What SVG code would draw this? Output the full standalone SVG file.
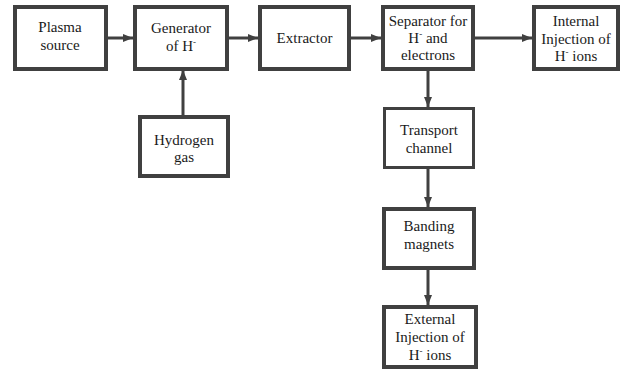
<svg xmlns="http://www.w3.org/2000/svg" width="626" height="370" viewBox="0 0 626 370">
<defs>
<style>
.box{fill:#fff;stroke:#404040;stroke-width:4}
.thin{stroke-width:3}
.lbl{font-family:"Liberation Serif","Times New Roman",serif;font-size:15px;fill:#1a1a1a;text-anchor:middle}
.sup{font-size:9px}
.edge{stroke:#404040;stroke-width:3;fill:none}
</style>
<marker id="ah" viewBox="0 0 10 10" refX="10" refY="5" markerWidth="10" markerHeight="10" markerUnits="userSpaceOnUse" orient="auto">
<path d="M0,1 L10,5 L0,9 Z" fill="#404040"/>
</marker>
</defs>
<rect width="626" height="370" fill="#fff"/>
<g id="connectors">
<line class="edge" x1="106" y1="38" x2="133" y2="38" marker-end="url(#ah)"/>
<line class="edge" x1="228" y1="38" x2="258" y2="38" marker-end="url(#ah)"/>
<line class="edge" x1="350" y1="38" x2="381" y2="38" marker-end="url(#ah)"/>
<line class="edge" x1="474" y1="38" x2="532" y2="38" marker-end="url(#ah)"/>
<line class="edge" x1="183" y1="116" x2="183" y2="70" marker-end="url(#ah)"/>
<line class="edge" x1="428" y1="69" x2="428" y2="107" marker-end="url(#ah)"/>
<line class="edge" x1="428" y1="168" x2="428" y2="207" marker-end="url(#ah)"/>
<line class="edge" x1="428" y1="269" x2="428" y2="305" marker-end="url(#ah)"/>
</g>
<g id="plasma">
<rect class="box" x="15" y="7" width="91" height="62"/>
<text class="lbl" x="60" y="32">Plasma</text>
<text class="lbl" x="60" y="50">source</text>
</g>
<g id="generator">
<rect class="box" x="135" y="7" width="92" height="62"/>
<text class="lbl" x="181" y="33">Generator</text>
<text class="lbl" x="181" y="51">of H<tspan class="sup" dy="-6">-</tspan></text>
</g>
<g id="extractor">
<rect class="box" x="260" y="7" width="89" height="62"/>
<text class="lbl" x="304.5" y="43">Extractor</text>
</g>
<g id="separator">
<rect class="box" x="383" y="7" width="90" height="62"/>
<text class="lbl" x="428" y="26">Separator for</text>
<text class="lbl" x="428" y="43">H<tspan class="sup" dy="-6">-</tspan><tspan dy="6"> and</tspan></text>
<text class="lbl" x="428" y="60">electrons</text>
</g>
<g id="internal">
<rect class="box" x="534" y="7" width="84" height="62"/>
<text class="lbl" x="576" y="26">Internal</text>
<text class="lbl" x="576" y="44">Injection of</text>
<text class="lbl" x="576" y="61">H<tspan class="sup" dy="-6">-</tspan><tspan dy="6"> ions</tspan></text>
</g>
<g id="hydrogen">
<rect class="box" x="140" y="117" width="88" height="59"/>
<text class="lbl" x="184" y="145">Hydrogen</text>
<text class="lbl" x="184" y="162">gas</text>
</g>
<g id="transport">
<rect class="box thin" x="384.5" y="108.5" width="89" height="59"/>
<text class="lbl" x="429" y="135">Transport</text>
<text class="lbl" x="429" y="153">channel</text>
</g>
<g id="banding">
<rect class="box" x="384" y="209" width="90" height="59"/>
<text class="lbl" x="429" y="231">Banding</text>
<text class="lbl" x="429" y="249">magnets</text>
</g>
<g id="external">
<rect class="box" x="384" y="307" width="92" height="60"/>
<text class="lbl" x="430" y="324">External</text>
<text class="lbl" x="430" y="342">Injection of</text>
<text class="lbl" x="430" y="360">H<tspan class="sup" dy="-6">-</tspan><tspan dy="6"> ions</tspan></text>
</g>
</svg>
